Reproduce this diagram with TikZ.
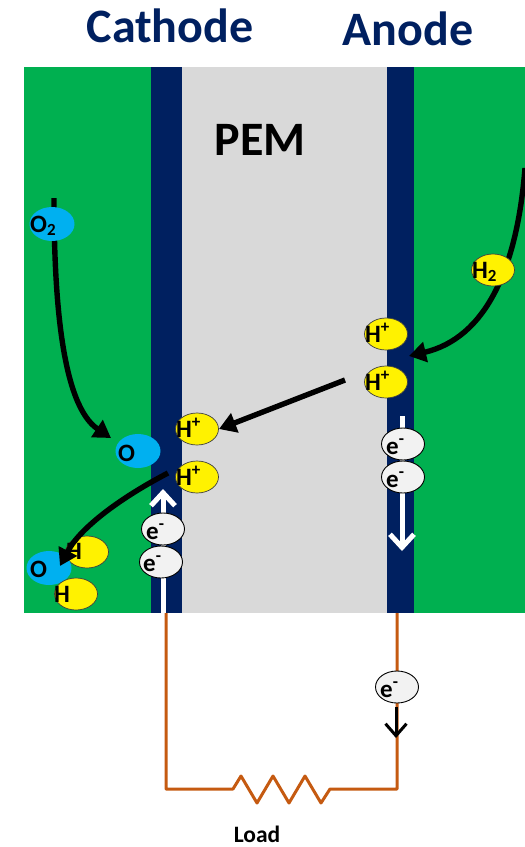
\documentclass[tikz,border=0pt]{standalone}
\usepackage{fontspec}
\setmainfont{Carlito}
\usetikzlibrary{shapes.geometric,arrows.meta}
\definecolor{gdl}{HTML}{00B050}
\definecolor{catalyst}{HTML}{002060}
\definecolor{membrane}{HTML}{D9D9D9}
\definecolor{oxygen}{HTML}{00B0F0}
\definecolor{electron}{HTML}{F2F2F2}
\definecolor{wire}{HTML}{C55A11}
\newcommand{\smallsub}[1]{\textsubscript{\fontsize{17}{18}\selectfont\bfseries #1}}
\newcommand{\smallsup}[1]{\textsuperscript{\fontsize{17}{18}\selectfont\bfseries #1}}
\tikzset{
  x=1pt,y=-1pt,
  layer/.style={draw=none,minimum height=546pt,inner sep=0pt,anchor=north west},
  ionH/.style={ellipse,draw=black!75,line width=.7pt,fill=yellow,minimum width=43pt,minimum height=32pt,inner sep=0pt},
  atomO/.style={ellipse,draw=none,fill=oxygen,minimum width=45pt,minimum height=34pt,inner sep=0pt},
  elec/.style={ellipse,draw=black,line width=.9pt,fill=electron,minimum width=43pt,minimum height=32pt,inner sep=0pt},
  chem/.style={font=\bfseries\fontsize{25}{27}\selectfont,inner sep=0pt,anchor=base west,text=black},
  heading/.style={font=\bfseries\fontsize{48}{54}\selectfont,text=catalyst,inner sep=0pt,anchor=base},
  flow/.style={line width=5.4pt,-{Triangle[length=17pt,width=20pt]}},
  current/.style={white,line width=5pt,line cap=butt,-{Straight Barb[length=13pt,width=24pt,line width=5pt]}},
  wireline/.style={wire,line width=3pt,line join=round},
}
\begin{document}
\begin{tikzpicture}
\useasboundingbox (0,0) rectangle (525,847);

% cell layers
\node[layer,fill=gdl,minimum width=501pt] (gas) at (24,67) {};
\node[layer,fill=catalyst,minimum width=31pt] (catL) at (151,67) {};
\node[layer,fill=membrane,minimum width=205pt] (pem) at (182,67) {};
\node[layer,fill=catalyst,minimum width=27pt] (catR) at (387,67) {};

% headings
\node[heading] (cathode) at (170,42) {Cathode};
\node[heading] (anode) at (408,45) {Anode};
\node[heading,text=black] (pemlabel) at (260,155) {PEM};
\node[chem,anchor=base,font=\bfseries\fontsize{23.5}{25}\selectfont] (load) at (257,842) {Load};

% external circuit with resistor
\coordinate (wireL) at (166,613);
\coordinate (wireR) at (397,613);
\coordinate (cornerL) at (166,789);
\coordinate (cornerR) at (397,789);
\draw[wireline] (wireL) -- (cornerL) -- (233,789) -- (241,776) -- (257,803) -- (273,776)
  -- (289,803) -- (305,776) -- (321,803) -- (330,789) -- (cornerR) -- (wireR);

% electron current inside the catalyst layers
\coordinate (upS) at (163,613);
\coordinate (upE) at (163,489);
\coordinate (downS) at (402,416);
\coordinate (downE) at (402,551);
\draw[current] (upS) -- (upE);
\draw[current] (downS) -- (downE);

% reactant feed lines, behind their particles
\coordinate (o2S) at (54,198);
\coordinate (o2E) at (111,438);
\coordinate (h2S) at (525,168);
\coordinate (h2E) at (409,356);
\draw[flow] (o2S) .. controls (54,300) and (62,405) .. (o2E);
\draw[flow] (h2S) .. controls (517,270) and (485,338) .. (h2E);

% oxygen particles
\node[atomO] (o2) at (52,224) {};
\node[chem] at (30,232) {O\smallsub{2}};
\node[atomO] (oA) at (138,451) {};
\node[chem] at (118,461) {O};

% water formation
\node[ionH] (hW1) at (87,552) {};
\node[chem] at (66,559) {H};
\node[atomO] (oW) at (49,568) {};
\node[chem] at (30,577) {O};
\node[ionH] (hW2) at (76,594) {};
\node[chem] at (54,602) {H};

% hydrogen species
\node[ionH] (h2) at (493,270) {};
\node[chem] at (472,278) {H\smallsub{2}};
\node[ionH] (hR1) at (386,334) {};
\node[chem] at (365,342) {H\smallsup{+}};
\node[ionH] (hR2) at (386,382) {};
\node[chem] at (365,390) {H\smallsup{+}};
\node[ionH] (hL1) at (197,429) {};
\node[chem] at (176,437) {H\smallsup{+}};
\node[ionH] (hL2) at (197,477) {};
\node[chem] at (176,485) {H\smallsup{+}};

% proton transport
\coordinate (crossS) at (345,380);
\coordinate (crossE) at (219,429);
\coordinate (waterS) at (168,473);
\coordinate (waterE) at (60,566);
\draw[flow] (crossS) -- (crossE);
\draw[flow] (waterS) .. controls (120,498) and (80,528) .. (waterE);

% electrons
\node[elec] (eL1) at (163,529) {};
\node[chem] at (146,539) {e\smallsup{-}};
\node[elec] (eL2) at (161,562) {};
\node[chem] at (143,571) {e\smallsup{-}};
\node[elec] (eR1) at (403,444) {};
\node[chem] at (386,454) {e\smallsup{-}};
\node[elec] (eR2) at (403,477) {};
\node[chem] at (386,487) {e\smallsup{-}};
\node[elec] (eW) at (397,687) {};
\node[chem] at (380,697) {e\smallsup{-}};

% arrow on the load wire
\coordinate (wS) at (396,707);
\coordinate (wE) at (396,738);
\draw[black,line width=3pt,-{Straight Barb[length=12pt,width=21pt,line width=3pt]}] (wS) -- (wE);
\end{tikzpicture}
\end{document}
